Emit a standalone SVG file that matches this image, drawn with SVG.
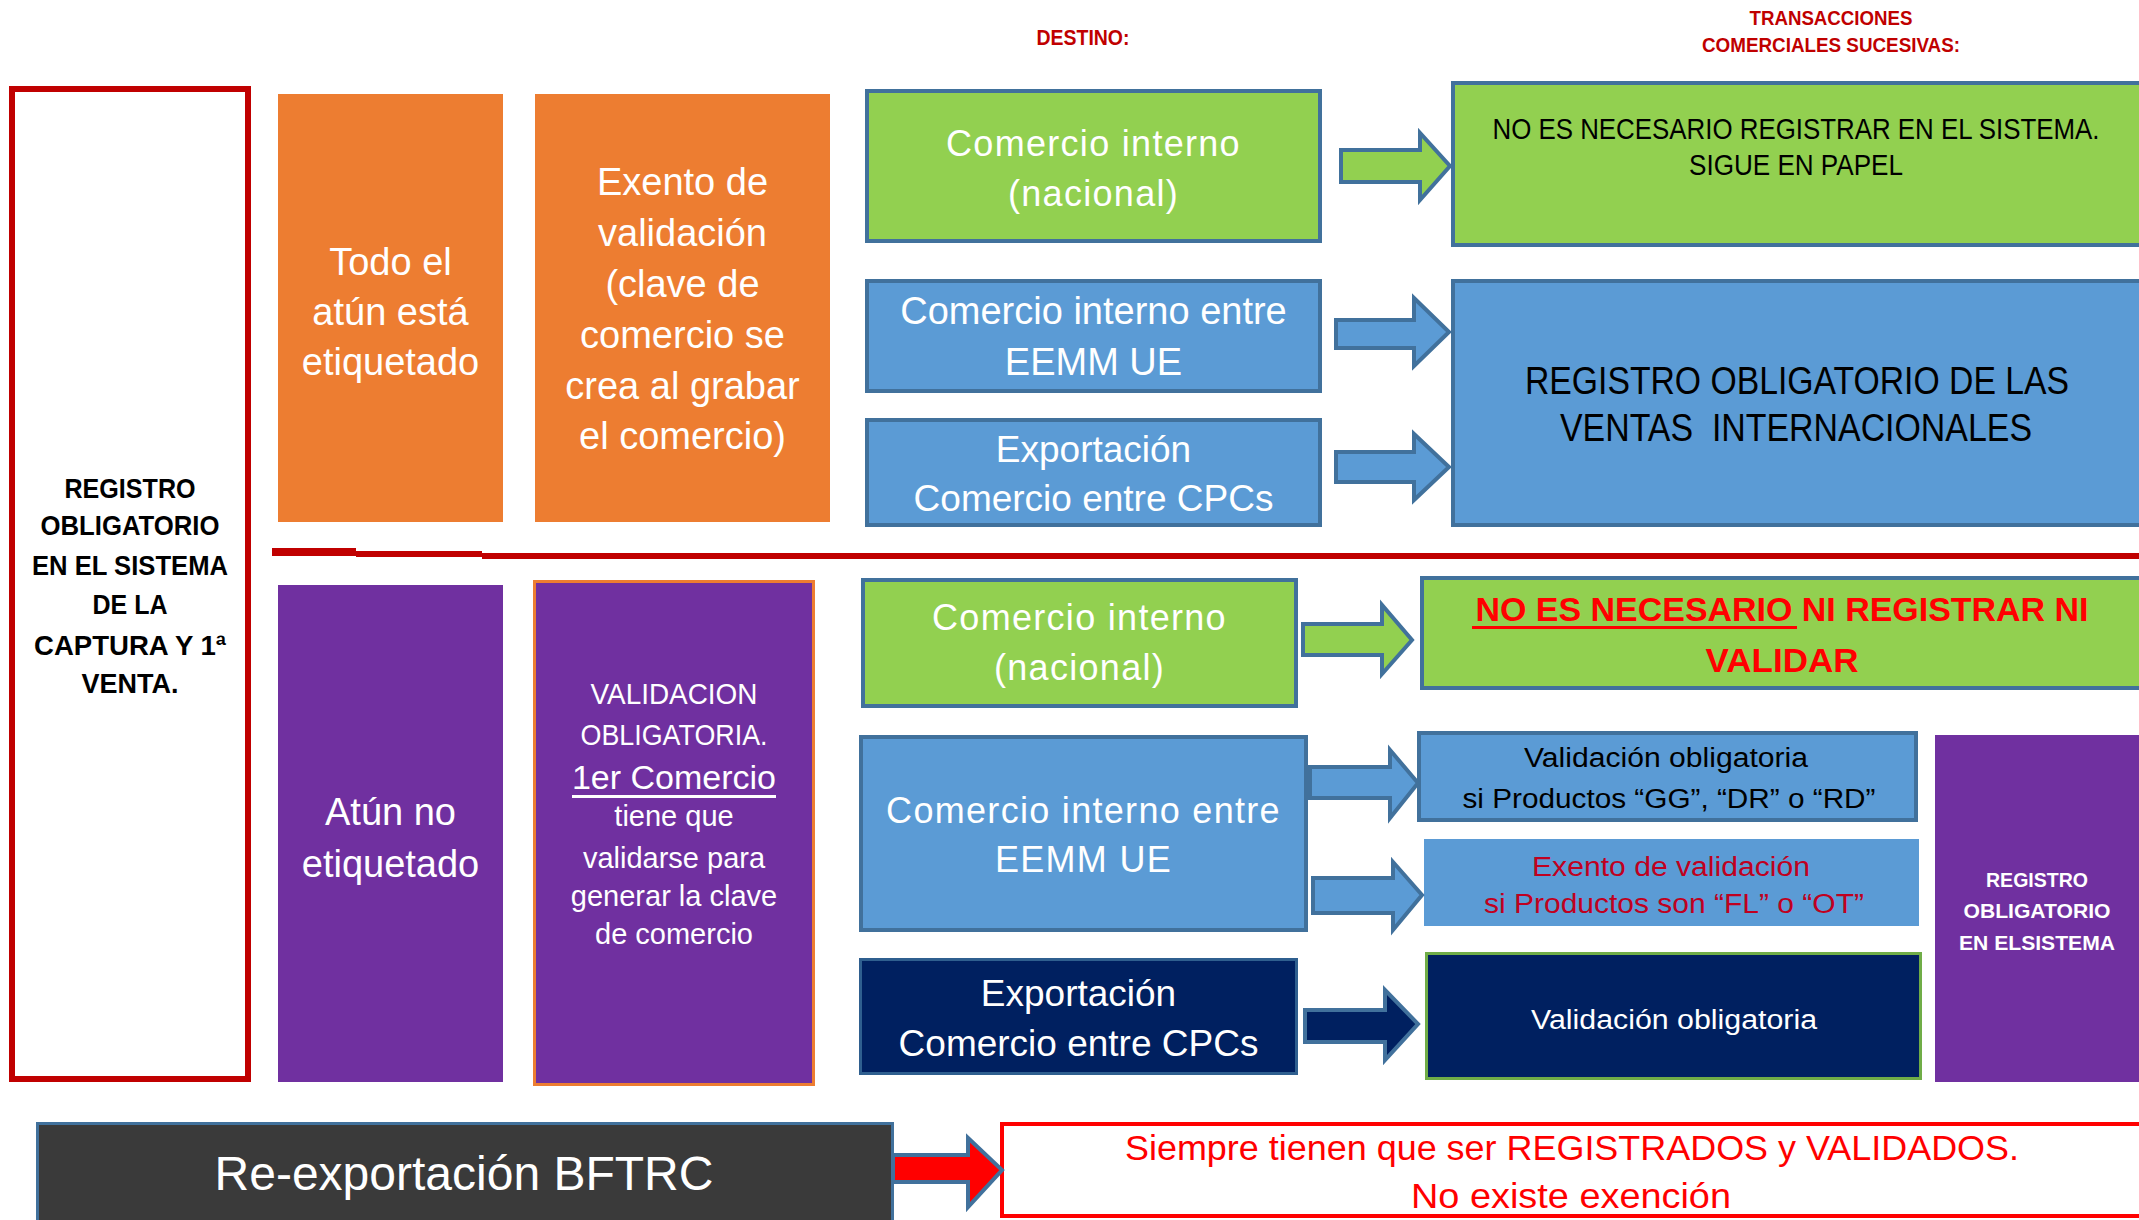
<svg xmlns="http://www.w3.org/2000/svg" width="2139" height="1220" viewBox="0 0 2139 1220">
<style>
text{font-family:"Liberation Sans",Arial,sans-serif;}
.c{text-anchor:middle;}
.w{fill:#ffffff;}
.k{fill:#000000;}
.b{font-weight:bold;}
.dr{fill:#c00000;}
.rd{fill:#ff0000;}
.sp{letter-spacing:1.3px;}
.blue{fill:#5b9bd5;stroke:#41719c;stroke-width:4;}
.green{fill:#92d050;stroke:#41719c;stroke-width:4;}
.navy{fill:#002060;stroke:#2f5f8f;stroke-width:3;}
.arr{stroke:#41719c;stroke-width:4;stroke-linejoin:miter;}
</style>
<rect width="2139" height="1220" fill="#ffffff"/>

<g id="headers">
<text x="1083" y="45" class="c b dr" font-size="22" textLength="93" lengthAdjust="spacingAndGlyphs">DESTINO:</text>
<text x="1831" y="25" class="c b dr" font-size="20" textLength="163" lengthAdjust="spacingAndGlyphs">TRANSACCIONES</text>
<text x="1831" y="52" class="c b dr" font-size="20" textLength="258" lengthAdjust="spacingAndGlyphs">COMERCIALES SUCESIVAS:</text>
</g>

<g id="registro-captura">
<rect x="12" y="89" width="236" height="990" fill="#ffffff" stroke="#c00000" stroke-width="6"/>
<text x="130" y="498" class="c b k" font-size="28" textLength="131" lengthAdjust="spacingAndGlyphs">REGISTRO</text>
<text x="130" y="535" class="c b k" font-size="28" textLength="179" lengthAdjust="spacingAndGlyphs">OBLIGATORIO</text>
<text x="130" y="575" class="c b k" font-size="28" textLength="196" lengthAdjust="spacingAndGlyphs">EN EL SISTEMA</text>
<text x="130" y="614" class="c b k" font-size="28" textLength="75" lengthAdjust="spacingAndGlyphs">DE LA</text>
<text x="130" y="655" class="c b k" font-size="28" textLength="192" lengthAdjust="spacingAndGlyphs">CAPTURA Y 1ª</text>
<text x="130" y="693" class="c b k" font-size="28" textLength="97" lengthAdjust="spacingAndGlyphs">VENTA.</text>
</g>

<g id="separador">
<rect x="272" y="548" width="84" height="8" fill="#c00000"/>
<rect x="356" y="551" width="126" height="6" fill="#c00000"/>
<rect x="482" y="553" width="1657" height="6" fill="#c00000"/>
</g>

<g id="todo-etiquetado">
<rect x="278" y="94" width="225" height="428" fill="#ed7d31"/>
<text x="390.5" y="275" class="c w" font-size="38">Todo el</text>
<text x="390.5" y="325" class="c w" font-size="38">atún está</text>
<text x="390.5" y="375" class="c w" font-size="38">etiquetado</text>
</g>

<g id="exento-validacion">
<rect x="535" y="94" width="295" height="428" fill="#ed7d31"/>
<text x="682.5" y="195" class="c w" font-size="38">Exento de</text>
<text x="682.5" y="246" class="c w" font-size="38">validación</text>
<text x="682.5" y="297" class="c w" font-size="38">(clave de</text>
<text x="682.5" y="348" class="c w" font-size="38">comercio se</text>
<text x="682.5" y="399" class="c w" font-size="38">crea al grabar</text>
<text x="682.5" y="449" class="c w" font-size="38">el comercio)</text>
</g>

<g id="comercio-nacional-1">
<rect x="867" y="91" width="453" height="150" class="green"/>
<text x="1093.5" y="156" class="c w sp" font-size="36">Comercio interno</text>
<text x="1093.5" y="206" class="c w sp" font-size="36">(nacional)</text>
</g>

<g id="comercio-eemm-1">
<rect x="867" y="281" width="453" height="110" class="blue"/>
<text x="1093.5" y="324" class="c w" font-size="38">Comercio interno entre</text>
<text x="1093.5" y="375" class="c w" font-size="38">EEMM UE</text>
</g>

<g id="exportacion-1">
<rect x="867" y="420" width="453" height="105" class="blue"/>
<text x="1093.5" y="462" class="c w" font-size="37">Exportación</text>
<text x="1093.5" y="511" class="c w" font-size="37">Comercio entre CPCs</text>
</g>

<g id="no-registrar-papel">
<rect x="1453" y="83" width="700" height="162" class="green"/>
<text x="1796" y="139" class="c k" font-size="29" textLength="607" lengthAdjust="spacingAndGlyphs">NO ES NECESARIO REGISTRAR EN EL SISTEMA.</text>
<text x="1796" y="175" class="c k" font-size="29" textLength="214" lengthAdjust="spacingAndGlyphs">SIGUE EN PAPEL</text>
</g>

<g id="registro-ventas">
<rect x="1453" y="281" width="700" height="244" class="blue"/>
<text x="1797" y="394" class="c k" font-size="38" textLength="544" lengthAdjust="spacingAndGlyphs">REGISTRO OBLIGATORIO DE LAS</text>
<text x="1796" y="441" class="c k" font-size="38" textLength="472" lengthAdjust="spacingAndGlyphs" xml:space="preserve">VENTAS  INTERNACIONALES</text>
</g>

<g id="atun-no-etiquetado">
<rect x="278" y="585" width="225" height="497" fill="#7030a0"/>
<text x="390.5" y="825" class="c w" font-size="38">Atún no</text>
<text x="390.5" y="877" class="c w" font-size="38">etiquetado</text>
</g>

<g id="validacion-obligatoria">
<rect x="534.5" y="581.5" width="279" height="503" fill="#7030a0" stroke="#ed7d31" stroke-width="3"/>
<text x="674" y="704" class="c w" font-size="29" textLength="167" lengthAdjust="spacingAndGlyphs">VALIDACION</text>
<text x="674" y="745" class="c w" font-size="29" textLength="187" lengthAdjust="spacingAndGlyphs">OBLIGATORIA.</text>
<text x="674" y="789" class="c w" font-size="34">1er Comercio</text>
<rect x="572" y="795" width="204" height="3" fill="#ffffff"/>
<text x="674" y="826" class="c w" font-size="29">tiene que</text>
<text x="674" y="868" class="c w" font-size="29">validarse para</text>
<text x="674" y="906" class="c w" font-size="29">generar la clave</text>
<text x="674" y="944" class="c w" font-size="29">de comercio</text>
</g>

<g id="comercio-nacional-2">
<rect x="863" y="580" width="433" height="126" class="green"/>
<text x="1079.5" y="630" class="c w sp" font-size="36">Comercio interno</text>
<text x="1079.5" y="680" class="c w sp" font-size="36">(nacional)</text>
</g>

<g id="comercio-eemm-2">
<rect x="861" y="737" width="445" height="193" class="blue"/>
<text x="1083.5" y="823" class="c w sp" font-size="36">Comercio interno entre</text>
<text x="1083.5" y="872" class="c w sp" font-size="36">EEMM UE</text>
</g>

<g id="exportacion-2">
<rect x="860.5" y="959.5" width="436" height="114" class="navy"/>
<text x="1078.5" y="1006" class="c w" font-size="37">Exportación</text>
<text x="1078.5" y="1056" class="c w" font-size="37">Comercio entre CPCs</text>
</g>

<g id="no-registrar-ni-validar">
<rect x="1422" y="578" width="730" height="110" class="green"/>
<text x="1782" y="621" class="c b rd" font-size="33" textLength="613" lengthAdjust="spacingAndGlyphs" xml:space="preserve">NO ES NECESARIO NI REGISTRAR NI</text>
<rect x="1472" y="626" width="325" height="3" fill="#ff0000"/>
<text x="1782" y="672" class="c b rd" font-size="33" textLength="153" lengthAdjust="spacingAndGlyphs">VALIDAR</text>
</g>

<g id="validacion-gg-dr-rd">
<rect x="1419" y="733" width="497" height="87" class="blue"/>
<text x="1666" y="767" class="c k" font-size="27" textLength="284" lengthAdjust="spacingAndGlyphs">Validación obligatoria</text>
<text x="1669" y="808" class="c k" font-size="27" textLength="413" lengthAdjust="spacingAndGlyphs">si Productos “GG”, “DR” o “RD”</text>
</g>

<g id="exento-fl-ot">
<rect x="1425" y="840" width="493" height="85" fill="#5b9bd5" stroke="#5b9bd5" stroke-width="2"/>
<text x="1671" y="876" class="c" fill="#c00020" font-size="27" textLength="278" lengthAdjust="spacingAndGlyphs">Exento de validación</text>
<text x="1674" y="913" class="c" fill="#c00020" font-size="27" textLength="380" lengthAdjust="spacingAndGlyphs">si Productos son “FL” o “OT”</text>
</g>

<g id="validacion-cpcs">
<rect x="1426.5" y="953.5" width="494" height="125" fill="#002060" stroke="#70ad47" stroke-width="3"/>
<text x="1674" y="1029" class="c w" font-size="27" textLength="286" lengthAdjust="spacingAndGlyphs">Validación obligatoria</text>
</g>

<g id="registro-sistema">
<rect x="1935" y="735" width="210" height="347" fill="#7030a0"/>
<text x="2037" y="887" class="c b w" font-size="20" textLength="102" lengthAdjust="spacingAndGlyphs">REGISTRO</text>
<text x="2037" y="918" class="c b w" font-size="20" textLength="147" lengthAdjust="spacingAndGlyphs">OBLIGATORIO</text>
<text x="2037" y="950" class="c b w" font-size="20" textLength="156" lengthAdjust="spacingAndGlyphs">EN ELSISTEMA</text>
</g>

<g id="reexportacion">
<rect x="37.5" y="1123.5" width="855" height="110" fill="#3a3a3a" stroke="#41719c" stroke-width="3"/>
<text x="464" y="1190" class="c w" font-size="48">Re-exportación BFTRC</text>
</g>

<g id="siempre-registrados">
<rect x="1002" y="1124" width="1150" height="92" fill="#ffffff" stroke="#ff0000" stroke-width="4"/>
<text x="1572" y="1160" class="c rd" font-size="35" textLength="894" lengthAdjust="spacingAndGlyphs">Siempre tienen que ser REGISTRADOS y VALIDADOS.</text>
<text x="1571" y="1208" class="c rd" font-size="35" textLength="320" lengthAdjust="spacingAndGlyphs">No existe exención</text>
</g>

<g id="connectors">
<polygon class="arr" fill="#92d050" points="1341,150 1420,150 1420,133 1450,166 1420,200 1420,182 1341,182"/>
<polygon class="arr" fill="#5b9bd5" points="1336,320 1414,320 1414,298 1449,332 1414,366 1414,348 1336,348"/>
<polygon class="arr" fill="#5b9bd5" points="1336,452 1414,452 1414,434 1449,467 1414,500 1414,482 1336,482"/>
<polygon class="arr" fill="#92d050" points="1303,624 1382,624 1382,605 1412,640 1382,674 1382,655 1303,655"/>
<polygon class="arr" fill="#5b9bd5" points="1310,767 1390,767 1390,750 1418,783 1390,818 1390,798 1310,798"/>
<polygon class="arr" fill="#5b9bd5" points="1313,878 1393,878 1393,862 1422,895 1393,930 1393,913 1313,913"/>
<polygon class="arr" fill="#002060" stroke="#2f5f8f" points="1305,1010 1385,1010 1385,990 1418,1024 1385,1060 1385,1042 1305,1042"/>
<polygon class="arr" fill="#ff0000" points="893,1155 968,1155 968,1138 1002,1170 968,1207 968,1182 893,1182"/>
</g>
</svg>
